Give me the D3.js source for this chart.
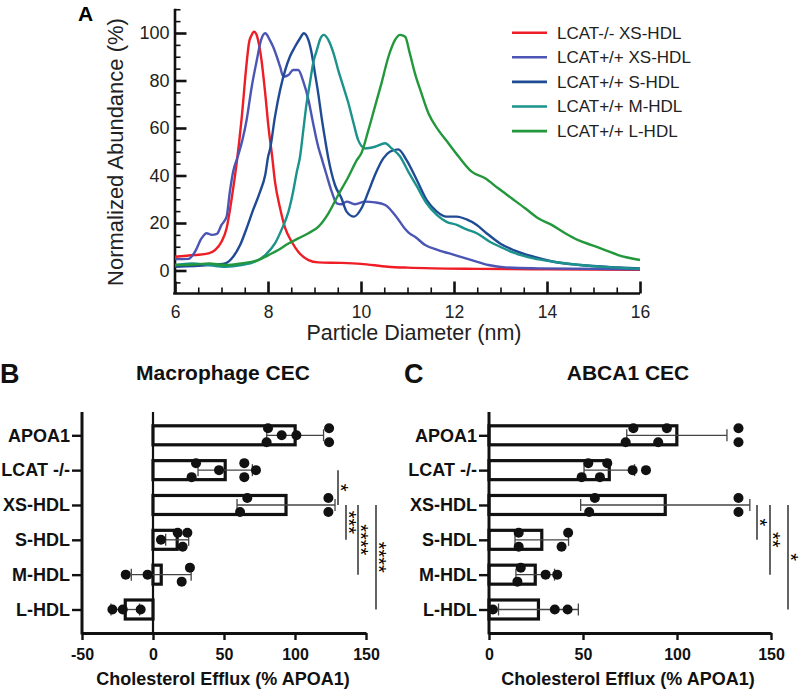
<!DOCTYPE html>
<html><head><meta charset="utf-8">
<script src="https://cdn.jsdelivr.net/npm/d3@7"></script>
<style>
body{margin:0;background:#fff}
svg{display:block}
text{font-family:"Liberation Sans",Arial,Helvetica,sans-serif}
</style>
</head><body>
<svg id="c" width="800" height="690"></svg>
<script>
// ---------- Panel A data: [diameter nm, normalized abundance %] ----------
const seriesNames = ["LCAT-/- XS-HDL","LCAT+/+ XS-HDL","LCAT+/+ S-HDL","LCAT+/+ M-HDL","LCAT+/+ L-HDL"];
const seriesColors = ["#ee1d26","#4a55b4","#1f4b94","#1b928b","#22973b"];
const koXS = [[6.00,5.8],[6.43,6.5],[6.72,7.2],[6.86,8.6],[7.00,12.1],[7.11,17.8],[7.22,30.4],[7.33,45.8],[7.43,63.4],[7.54,87.2],[7.59,95.7],[7.65,99.2],[7.70,100.5],[7.75,99.5],[7.80,95.8],[7.86,88.6],[7.94,74.6],[8.01,60.5],[8.09,47.9],[8.15,37.4],[8.26,26.2],[8.37,17.8],[8.51,12.1],[8.65,7.9],[8.87,4.4],[9.08,3.4],[9.58,3.2],[10.0,2.8],[10.58,1.6],[11.0,1.2],[11.55,0.9],[12.5,0.7],[14.0,0.5],[16.0,0.3]];
const wtXS = [[6.00,4.8],[6.29,4.9],[6.43,7.9],[6.57,13.5],[6.68,15.7],[6.79,15.0],[6.90,15.4],[7.00,19.2],[7.11,22.7],[7.18,33.2],[7.25,41.6],[7.36,48.6],[7.45,55.0],[7.54,63.4],[7.65,77.4],[7.76,88.6],[7.85,97.0],[7.94,99.9],[8.04,97.0],[8.11,94.2],[8.19,90.0],[8.26,85.8],[8.33,81.6],[8.44,82.3],[8.54,84.4],[8.65,84.4],[8.76,79.5],[8.87,71.8],[8.97,62.0],[9.08,52.1],[9.15,47.5],[9.26,40.2],[9.37,33.2],[9.48,28.3],[9.58,27.9],[9.69,29.0],[9.87,27.9],[10.09,29.0],[10.30,28.7],[10.52,27.6],[10.73,23.4],[10.95,17.5],[11.05,15.5],[11.16,14.2],[11.38,10.7],[11.66,8.6],[12.02,6.5],[12.38,4.4],[12.74,2.3],[13.10,1.3],[13.81,0.9],[16.0,0.5]];
const wtS = [[6.00,1.6],[6.72,2.3],[7.08,3.0],[7.25,5.8],[7.40,10.7],[7.54,17.8],[7.68,25.5],[7.83,33.2],[7.94,40.2],[8.01,48.6],[8.04,50.7],[8.15,64.8],[8.26,76.0],[8.37,84.4],[8.47,90.0],[8.58,94.2],[8.69,97.8],[8.77,99.9],[8.87,97.0],[8.94,91.4],[9.01,83.0],[9.08,74.6],[9.15,64.8],[9.23,54.9],[9.30,47.0],[9.44,36.0],[9.58,30.4],[9.69,24.8],[9.85,22.7],[10.01,26.2],[10.16,33.2],[10.30,40.2],[10.48,47.2],[10.62,50.0],[10.80,51.0],[10.98,46.5],[11.20,38.1],[11.41,29.7],[11.63,24.8],[11.84,22.7],[12.06,22.7],[12.27,21.5],[12.49,19.2],[12.70,15.7],[12.99,11.4],[13.28,8.6],[13.71,5.8],[14.14,3.7],[14.71,2.3],[15.53,1.3],[16.0,0.9]];
const wtM = [[6.00,2.3],[6.36,3.0],[6.72,2.3],[7.08,1.6],[7.43,2.3],[7.72,3.7],[7.94,6.5],[8.15,11.4],[8.29,17.1],[8.44,24.8],[8.54,33.2],[8.62,41.6],[8.69,48.0],[8.76,59.2],[8.83,70.4],[8.90,78.8],[8.97,87.2],[9.05,92.8],[9.13,97.8],[9.20,99.2],[9.30,97.0],[9.41,91.4],[9.51,84.4],[9.62,77.4],[9.73,70.4],[9.84,62.0],[9.94,54.9],[10.09,51.4],[10.30,52.1],[10.52,53.6],[10.66,51.4],[10.84,48.0],[11.02,41.5],[11.20,35.5],[11.41,28.3],[11.63,23.4],[11.84,20.5],[12.06,19.2],[12.27,17.3],[12.49,15.7],[12.77,12.1],[12.99,10.0],[13.28,7.5],[13.71,5.1],[14.14,3.7],[14.71,2.3],[15.50,1.2],[16.0,0.7]];
const wtL = [[6.00,2.3],[6.50,2.6],[6.72,3.0],[7.08,2.3],[7.43,3.0],[7.79,4.4],[8.01,6.5],[8.22,8.6],[8.44,11.4],[8.65,13.5],[8.87,15.7],[9.08,18.4],[9.30,24.1],[9.51,31.8],[9.73,39.5],[9.91,46.5],[10.01,49.5],[10.16,59.2],[10.30,69.0],[10.44,78.8],[10.59,90.0],[10.73,97.0],[10.84,99.2],[10.95,98.4],[11.05,91.4],[11.16,83.0],[11.30,74.6],[11.45,66.2],[11.66,59.2],[11.88,53.6],[12.09,48.2],[12.38,41.6],[12.67,38.8],[12.95,34.6],[13.24,30.4],[13.53,26.2],[13.81,22.0],[14.10,19.2],[14.39,15.7],[14.67,12.8],[14.96,10.7],[15.25,8.6],[15.53,6.5],[16.0,4.4]];
const seriesData = [koXS, wtXS, wtS, wtM, wtL];
const diamTicks = [6,8,10,12,14,16];
const abundTicks = [0,20,40,60,80,100];

// ---------- Panels B & C data ----------
const categories = ["APOA1","LCAT -/-","XS-HDL","S-HDL","M-HDL","L-HDL"];
const macrophagePoints = [[80,81,90.6,101,124,124],[27.2,30.3,46.5,64.3,64.3,72.5],[61.3,66.4,123.5,123.5],[5.6,17.4,20.9,24.2],[-19.2,-3.8,20.2,26],[-28.6,-21.3,-8.7]];
const abca1Points = [[72.7,76.8,90,94.6,132.7,132.7],[49.3,52.8,59,62.9,76.4,83.5],[53.3,56.3,132.7,132.7],[15.8,15.8,38.6,42.1],[15.1,16.9,30.1,36.3],[2.1,35,41.8]];
const macTicks = [-50,0,50,100,150];
const abcaTicks = [0,50,100,150];
const macSig = [["LCAT -/-","XS-HDL","*"],["XS-HDL","S-HDL","***"],["XS-HDL","M-HDL","****"],["XS-HDL","L-HDL","****"]];
const abcaSig = [["XS-HDL","S-HDL","*"],["XS-HDL","M-HDL","**"],["XS-HDL","L-HDL","*"]];

const svg = d3.select("#c");

// ================= Panel A =================
const xA = d3.scaleLinear().domain([6,16]).range([175,640]);
const yA = d3.scaleLinear().domain([-9.6,110.4]).range([293.3,8.3]);
const gA = svg.append("g");

// minor ticks
gA.append("g").attr("transform","translate(174.5,0)")
  .call(d3.axisLeft(yA).tickValues(d3.range(-5,111,5).filter(v=>v%20!==0)).tickSize(-6).tickFormat(""))
  .call(g=>g.select(".domain").remove())
  .selectAll("line").attr("stroke","#111").attr("stroke-width",1.6);
gA.append("g").attr("transform","translate(0,293.5)")
  .call(d3.axisBottom(xA).tickValues(d3.range(6.5,16,0.5).filter(v=>v%2!==0)).tickSize(-6).tickFormat(""))
  .call(g=>g.select(".domain").remove())
  .selectAll("line").attr("stroke","#111").attr("stroke-width",1.6);
// major
const yAx = gA.append("g").attr("transform","translate(174.5,0)")
  .call(d3.axisLeft(yA).tickValues(abundTicks).tickSize(-12).tickSizeOuter(0).tickPadding(5));
const xAx = gA.append("g").attr("transform","translate(0,293.5)")
  .call(d3.axisBottom(xA).tickValues(diamTicks).tickSize(-12).tickSizeOuter(0).tickPadding(12));
[yAx,xAx].forEach(a=>{
  a.select(".domain").attr("stroke","#111").attr("stroke-width",2.6);
  a.selectAll(".tick line").attr("stroke","#111").attr("stroke-width",2.6);
  a.selectAll("text").attr("font-size",18).attr("fill","#222").attr("font-family","Liberation Sans, Arial, sans-serif");
});
xAx.selectAll("text").attr("font-size",17.5);
xAx.select(".domain").attr("d","M173.2,0H640");

// curves
const lineA = d3.line().x(d=>xA(d[0])).y(d=>yA(d[1])).curve(d3.curveMonotoneX);
gA.append("g").selectAll("path").data(seriesData).join("path")
  .attr("d",lineA).attr("fill","none")
  .attr("stroke",(d,i)=>seriesColors[i]).attr("stroke-width",2.4).attr("stroke-linejoin","round");

// labels
gA.append("text").attr("x",414).attr("y",340).attr("text-anchor","middle").attr("font-size",21.5).attr("fill","#222").text("Particle Diameter (nm)");
gA.append("text").attr("transform","translate(123,152) rotate(-90)").attr("text-anchor","middle").attr("font-size",22).attr("fill","#222").text("Normalized Abundance (%)");
gA.append("text").attr("x",78).attr("y",21).attr("font-size",21).attr("font-weight","bold").text("A");

// legend
const leg = gA.append("g");
seriesNames.forEach((n,i)=>{
  const y = 32.7 + i*24.6;
  leg.append("line").attr("x1",512).attr("x2",547).attr("y1",y).attr("y2",y).attr("stroke",seriesColors[i]).attr("stroke-width",2.6);
  leg.append("text").attr("x",557).attr("y",y).attr("dy","0.35em").attr("font-size",17).attr("fill","#222").text(n);
});

// ================= Panels B & C =================
function barPanel(o){
  const g = svg.append("g");
  const x = d3.scaleLinear().domain(o.domain).range(o.range);
  const y = d3.scalePoint().domain(categories).range([435.3,609.5]);
  const axTop = 412, axBot = 633;
  const barH = 19, r = 5, off = 7;

  // zero line
  if (o.domain[0] < 0) {
    g.append("line").attr("x1",x(0)).attr("x2",x(0)).attr("y1",axTop).attr("y2",axBot).attr("stroke","#111").attr("stroke-width",2.2);
  }
  // bars
  const stats = o.points.map(p=>({mean:d3.mean(p), sd:d3.deviation(p)}));
  g.append("g").selectAll("rect").data(categories).join("rect")
    .attr("x",(c,i)=>x(Math.min(0,stats[i].mean)))
    .attr("width",(c,i)=>Math.abs(x(stats[i].mean)-x(0)))
    .attr("y",c=>y(c)-barH/2).attr("height",barH)
    .attr("fill","#fff").attr("stroke","#111").attr("stroke-width",3.2);
  // error bars
  categories.forEach((c,i)=>{
    const lo = x(stats[i].mean - stats[i].sd), hi = x(stats[i].mean + stats[i].sd), cy = y(c);
    const eg = g.append("g").attr("stroke","#444").attr("stroke-width",1.3);
    eg.append("line").attr("x1",lo).attr("x2",hi).attr("y1",cy).attr("y2",cy);
    eg.append("line").attr("x1",lo).attr("x2",lo).attr("y1",cy-6).attr("y2",cy+6);
    eg.append("line").attr("x1",hi).attr("x2",hi).attr("y1",cy-6).attr("y2",cy+6);
  });
  // dots (clustered: overlapping points spread up/down)
  categories.forEach((c,i)=>{
    const vals = o.points[i].slice().sort((a,b)=>a-b);
    const clusters = [];
    vals.forEach(v=>{
      const last = clusters[clusters.length-1];
      if (last && x(v) - x(last[last.length-1]) < 2*r) last.push(v); else clusters.push([v]);
    });
    clusters.forEach(cl=>{
      const n = cl.length;
      cl.forEach((v,k)=>{
        const dy = n===1 ? 0 : (((n-1-k)%2===0) ? -off : off);
        g.append("circle").attr("cx",x(v)).attr("cy",y(c)+dy).attr("r",r).attr("fill","#111");
      });
    });
  });
  // axes
  const xa = g.append("g").attr("transform",`translate(0,${axBot})`)
    .call(d3.axisBottom(x).tickValues(o.ticks).tickFormat(d=>String(d)).tickSize(7).tickSizeOuter(0).tickPadding(9));
  xa.select(".domain").attr("stroke","#111").attr("stroke-width",3);
  xa.selectAll(".tick line").attr("stroke","#111").attr("stroke-width",2.4);
  xa.selectAll("text").attr("font-size",16).attr("font-weight","bold").attr("fill","#111").attr("font-family","Liberation Sans, Arial, sans-serif");
  const ya = g.append("g").attr("transform",`translate(${o.range[0]},0)`)
    .call(d3.axisLeft(y).tickSize(10).tickPadding(2));
  ya.select(".domain").remove();
  ya.selectAll(".tick line").attr("stroke","#111").attr("stroke-width",2.4);
  ya.selectAll("text").attr("font-size",18).attr("font-weight","bold").attr("fill","#111").attr("font-family","Liberation Sans, Arial, sans-serif");
  g.append("line").attr("x1",o.range[0]).attr("x2",o.range[0]).attr("y1",axTop).attr("y2",axBot+1.5).attr("stroke","#111").attr("stroke-width",3);

  // significance
  o.sig.forEach((s,k)=>{
    const lx = o.sigX[k], y1 = y(s[0]), y2 = y(s[1]);
    g.append("line").attr("x1",lx).attr("x2",lx).attr("y1",y1).attr("y2",y2).attr("stroke","#222").attr("stroke-width",1.4);
    g.append("text").attr("transform",`translate(${lx-4.5},${(y1+y2)/2}) rotate(90)`)
      .attr("text-anchor","middle").attr("font-size",20).attr("fill","#000").text(s[2]);
  });

  // titles
  g.append("text").attr("x",o.titleX).attr("y",380).attr("text-anchor","middle").attr("font-size",21).attr("font-weight","bold").attr("fill","#111").text(o.title);
  g.append("text").attr("x",o.titleX).attr("y",685).attr("text-anchor","middle").attr("font-size",18).attr("font-weight","bold").attr("fill","#111").text("Cholesterol Efflux (% APOA1)");
  g.append("text").attr("x",o.letterX).attr("y",383).attr("font-size",27).attr("font-weight","bold").attr("fill","#111").text(o.letter);
}

barPanel({domain:[-50,150], range:[82,366], ticks:macTicks, points:macrophagePoints, sig:macSig, sigX:[338,346,358,376], title:"Macrophage CEC", titleX:223, letter:"B", letterX:0});
barPanel({domain:[0,150], range:[489,771], ticks:abcaTicks, points:abca1Points, sig:abcaSig, sigX:[757,770,788], title:"ABCA1 CEC", titleX:628, letter:"C", letterX:404});
</script>
</body></html>
